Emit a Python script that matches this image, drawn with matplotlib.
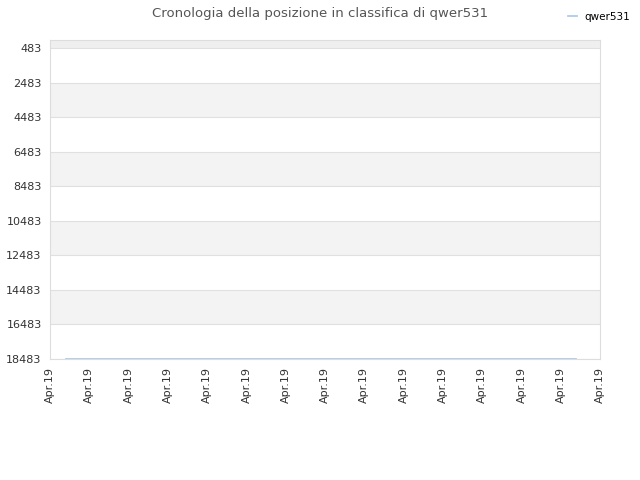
import matplotlib
matplotlib.use('Agg')
import matplotlib.pyplot as plt

# dati
giorni = [0.4, 2.0, 4.0, 6.0, 8.0, 10.0, 12.0, 13.4]
posizioni = [18460, 18460, 18460, 18460, 18460, 18460, 18460, 18460]
x_ticks = list(range(15))
x_labels = ['Apr.19'] * 15
y_ticks = [483, 2483, 4483, 6483, 8483, 10483, 12483, 14483, 16483, 18483]

fig = plt.figure(figsize=(6.4, 4.8), dpi=100)
ax = fig.add_axes([50 / 640, 121 / 480, 550 / 640, 319 / 480])

# bande alternate
y_top = 20
ax.axhspan(y_top, 483, color='#efefef', lw=0, zorder=0)
for i in range(len(y_ticks) - 1):
    if i % 2 == 1:
        ax.axhspan(y_ticks[i], y_ticks[i + 1], color='#f3f3f3', lw=0, zorder=0)
for y in y_ticks:
    ax.axhline(y, color='#e0e0e0', lw=0.8, zorder=1)

ax.plot(giorni, posizioni, color='#a4c8ec', lw=1.2, label='qwer531', zorder=3)

ax.set_ylim(18483, y_top)
ax.set_xlim(0, 14)
ax.set_yticks(y_ticks)
ax.set_yticklabels([str(v) for v in y_ticks], fontsize=8, color='#333333')
ax.set_xticks(x_ticks)
ax.set_xticklabels(x_labels, rotation=90, fontsize=8, color='#333333')
ax.tick_params(length=0, pad=6)
for s in ax.spines.values():
    s.set_color('#dddddd')

fig.suptitle('Cronologia della posizione in classifica di qwer531', fontsize=9.5,
             color='#555555', x=0.5, y=0.985)
fig.legend(loc='upper right', bbox_to_anchor=(1.0, 0.995), frameon=False, fontsize=7.5,
           handlelength=0.8)

fig.savefig('out.png', dpi=100)
